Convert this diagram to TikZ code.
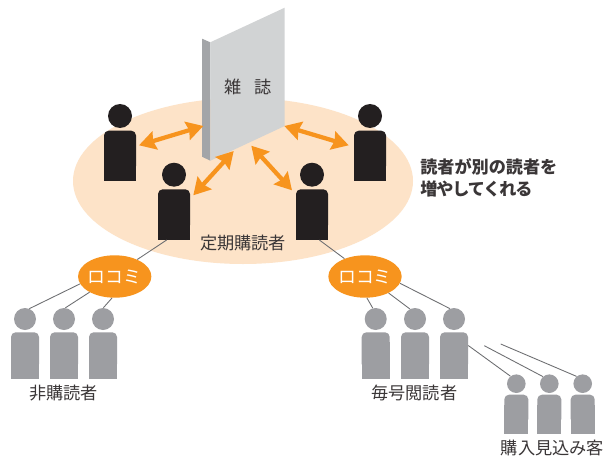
\documentclass[tikz,border=0pt]{standalone}
\usepackage{fontspec}
\setmainfont{Noto Sans CJK JP}
\usetikzlibrary{arrows.meta,shapes.geometric}
\definecolor{inkblack}{HTML}{231F20}
\definecolor{peoplegrey}{HTML}{9D9EA2}
\definecolor{orangemain}{HTML}{F7941E}
\definecolor{peach}{HTML}{FDE3C8}
\definecolor{coverface}{HTML}{D1D3D4}
\definecolor{spineface}{HTML}{A3A5A8}
\definecolor{txt}{HTML}{3A3637}
\definecolor{wire}{HTML}{6D6E71}
\tikzset{
  label text/.style={font=\fontsize{12.9pt}{14pt}\selectfont,text=txt,inner sep=0pt},
  oval/.style={ellipse,fill=orangemain,minimum width=55pt,minimum height=31.8pt,inner sep=0pt,text=white,font=\fontsize{13.4pt}{14pt}\selectfont},
  wireline/.style={draw=wire,line width=0.65pt},
  swap arrow/.style={draw=orangemain,line width=3.2pt,{Stealth[length=12.5pt,width=14pt,inset=1.5pt]}-{Stealth[length=12.5pt,width=14pt,inset=1.5pt]}},
}
% name, cx, head y, head r, half width, top, bottom, colour
\newcommand{\humanfig}[8]{%
  \fill[#8,rounded corners=3.5pt] (#2-#5,#6) rectangle (#2+#5,#7-10);
  \fill[#8] (#2-#5,#6+10) rectangle (#2+#5,#7);
  \node (#1) [inner sep=0pt,minimum width={2*#5*0.75pt},minimum height={(#7-#6)*0.75pt}] at (#2,{(#6+#7)/2}) {};
  \node (#1h) [circle,fill=#8,inner sep=0pt,minimum size={2*#4*0.75pt}] at (#2,#3) {};
}
\begin{document}
\begin{tikzpicture}[x=0.75pt,y=-0.75pt]
\useasboundingbox (0,0) rectangle (605,456);
\fill[white] (0,0) rectangle (605,456);
% readers' circle
\node (circle) [ellipse,fill=peach,minimum width=255pt,minimum height=124.5pt,inner sep=0pt] at (243,181) {};
% magazine
\fill[spineface] (202,38.7) -- (210.3,42.3) -- (210.3,160.7) -- (202,156.7) -- cycle;
\fill[coverface] (210.3,42.3) -- (284.7,7.7) -- (284.7,126) -- (210.3,160.7) -- cycle;
\node (mag) [label text] at (248,86.7) {雑\hspace{0.75em}誌};
% subscribers
\humanfig{pa}{120}{116}{12}{16}{130.7}{180.7}{inkblack}
\humanfig{pb}{174}{174.7}{12}{16}{189.3}{239.7}{inkblack}
\humanfig{pc}{312}{174.7}{12}{16}{189.3}{239.7}{inkblack}
\humanfig{pd}{370}{116}{12}{16}{130.7}{180.7}{inkblack}
% arrows
\coordinate (a1s) at (139,145.3); \coordinate (a1e) at (203.3,126);
\coordinate (a2s) at (284.3,126); \coordinate (a2e) at (348.7,145.3);
\coordinate (a3s) at (193.3,195.3); \coordinate (a3e) at (233.7,151);
\coordinate (a4s) at (251.3,145.7); \coordinate (a4e) at (292,190.3);
\draw[swap arrow] (a1s) -- (a1e);
\draw[swap arrow] (a2s) -- (a2e);
\draw[swap arrow] (a3s) -- (a3e);
\draw[swap arrow] (a4s) -- (a4e);
% texts
\node (sub) [label text] at (243,243) {定期購読者};
\node (note) [label text,font=\fontsize{12.85pt}{16.2pt}\selectfont\bfseries,align=left,anchor=west] at (420,177.5) {読者が別の読者を\\{\addfontfeature{LetterSpace=-6.5}増やしてくれる}};
% word of mouth
\node (ol) [oval] at (114.7,276.5) {\makebox[0pt]{ロコミ}};
\node (or) [oval] at (365,276.5) {\makebox[0pt]{ロコミ}};
% non subscribers
\humanfig{na}{25}{319}{11}{14}{332.3}{378.7}{peoplegrey}
\humanfig{nb}{64}{319}{11}{14}{332.3}{378.7}{peoplegrey}
\humanfig{nc}{103}{319}{11}{14}{332.3}{378.7}{peoplegrey}
\node (nl) [label text] at (63.7,393.3) {非購読者};
% issue readers
\humanfig{ra}{375.7}{319}{11}{14}{332.3}{378.7}{peoplegrey}
\humanfig{rb}{415}{319}{11}{14}{332.3}{378.7}{peoplegrey}
\humanfig{rc}{454}{319}{11}{14}{332.3}{378.7}{peoplegrey}
\node (rl) [label text] at (414.3,392.7) {毎号閲読者};
% prospects
\humanfig{sa}{516.3}{383.7}{9.3}{12}{394.7}{433.7}{peoplegrey}
\humanfig{sb}{549.3}{383.7}{9.3}{12}{394.7}{433.7}{peoplegrey}
\humanfig{sc}{582.7}{383.7}{9.3}{12}{394.7}{433.7}{peoplegrey}
\node (sl) [label text] at (552.5,448) {購入見込み客};
% connectors
\draw[wireline] (pb.254) -- (ol.37);
\draw[wireline] (pc.286) -- (or.139);
\draw[wireline] (ol.192) -- (nah.67);
\draw[wireline] (ol.212) -- (nbh.83);
\draw[wireline] (ol.263) -- (nch.88);
\draw[wireline] (or.275) -- (rah.105);
\draw[wireline] (or.325) -- (rbh.117);
\draw[wireline] (or.349) -- (rch.112);
\coordinate (fb) at (484.3,345.7);
\coordinate (fc) at (500.7,344);
\draw[wireline] (rc.35) -- (sah.128);
\draw[wireline] (fb) -- (sbh.132);
\draw[wireline] (fc) -- (sch.130);
\end{tikzpicture}
\end{document}
